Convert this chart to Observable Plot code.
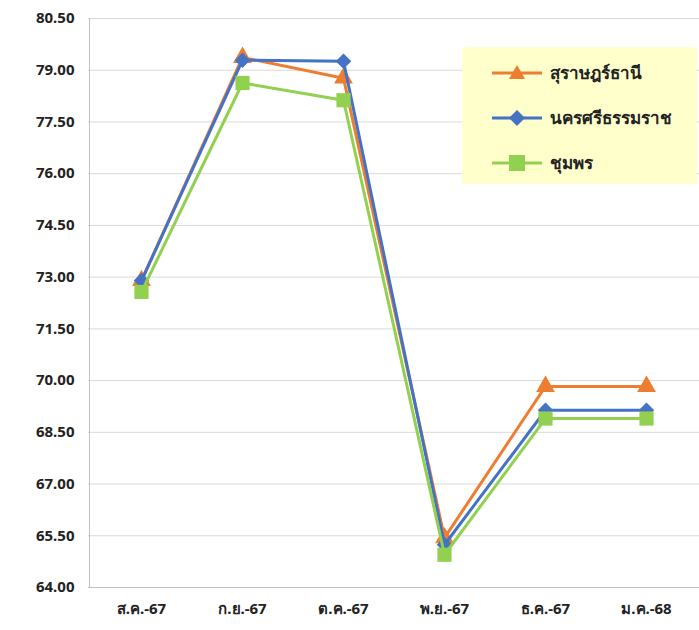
<!DOCTYPE html>
<html><head><meta charset="utf-8">
<script src="https://cdn.jsdelivr.net/npm/d3@7"></script>
<script src="https://cdn.jsdelivr.net/npm/@observablehq/plot@0.6"></script>
<style>
body{margin:0;background:#fff;font-family:"Noto Sans","DejaVu Sans",sans-serif}
#wrap{position:relative;width:699px;height:630px}
#legend{position:absolute;left:462px;top:47px;width:235px;height:137px;background:#FFFFCC;font-size:17px;font-weight:bold;color:#222}
.row{position:absolute;left:30px;display:flex;align-items:center}
.row svg{margin-right:8px}
</style></head><body>
<div id="wrap"><div id="chart"></div>
<div id="legend">
<div class="row" style="top:12px"><svg width="50" height="20"><line x1="0" y1="10" x2="50" y2="10" stroke="#ED7D31" stroke-width="3"/><polygon points="25,2 33,16 17,16" fill="#ED7D31"/></svg>สุราษฎร์ธานี</div>
<div class="row" style="top:57px"><svg width="50" height="20"><line x1="0" y1="10" x2="50" y2="10" stroke="#4472C4" stroke-width="3"/><polygon points="25,2 33,10 25,18 17,10" fill="#4472C4"/></svg>นครศรีธรรมราช</div>
<div class="row" style="top:102px"><svg width="50" height="20"><line x1="0" y1="10" x2="50" y2="10" stroke="#92D050" stroke-width="3"/><rect x="17" y="2" width="16" height="16" fill="#92D050"/></svg>ชุมพร</div>
</div></div>
<script>
const months = ['ส.ค.-67','ก.ย.-67','ต.ค.-67','พ.ย.-67','ธ.ค.-67','ม.ค.-68'];
const suratthani = [72.90, 79.37, 78.77, 65.44, 69.83, 69.83];
const nakhon = [72.90, 79.29, 79.26, 65.24, 69.14, 69.14];
const chumphon = [72.57, 78.63, 78.13, 64.95, 68.90, 68.90];
const yTicks = d3.range(64, 80.51, 1.5);

const series = [
  {name:'สุราษฎร์ธานี', values:suratthani, color:'#ED7D31', symbol:'triangle', r:7},
  {name:'นครศรีธรรมราช', values:nakhon, color:'#4472C4', symbol:'diamond2', r:7},
  {name:'ชุมพร', values:chumphon, color:'#92D050', symbol:'square', r:8}
];
const rows = series.flatMap(s => s.values.map((v,i) => ({month:months[i], value:v, name:s.name})));

const marks = [
  Plot.ruleY(yTicks.slice(1), {stroke:'#d9d9d9'}),
  Plot.ruleY([64], {stroke:'#bfbfbf'}),
  Plot.ruleX([months[0]], {dx:-52, stroke:'#bfbfbf'})
];
for (const s of series) {
  const d = rows.filter(r => r.name === s.name);
  marks.push(Plot.line(d, {x:'month', y:'value', stroke:s.color, strokeWidth:3}));
  marks.push(Plot.dot(d, {x:'month', y:'value', fill:s.color, symbol:() => s.symbol, r:s.r}));
}

const chart = Plot.plot({
  width:699, height:630,
  marginLeft:88, marginRight:0, marginTop:18, marginBottom:43,
  style:{fontSize:'15px', fontWeight:'bold', color:'#222', fontFamily:'"Noto Sans","DejaVu Sans",sans-serif'},
  x:{type:'point', domain:months, padding:0.5, label:null, tickSize:0, tickPadding:16},
  y:{domain:[64,80.5], ticks:yTicks, tickFormat:d => d.toFixed(2), tickSize:0, tickPadding:14, label:null},
  marks
});
document.getElementById('chart').appendChild(chart);
</script>
</body></html>
